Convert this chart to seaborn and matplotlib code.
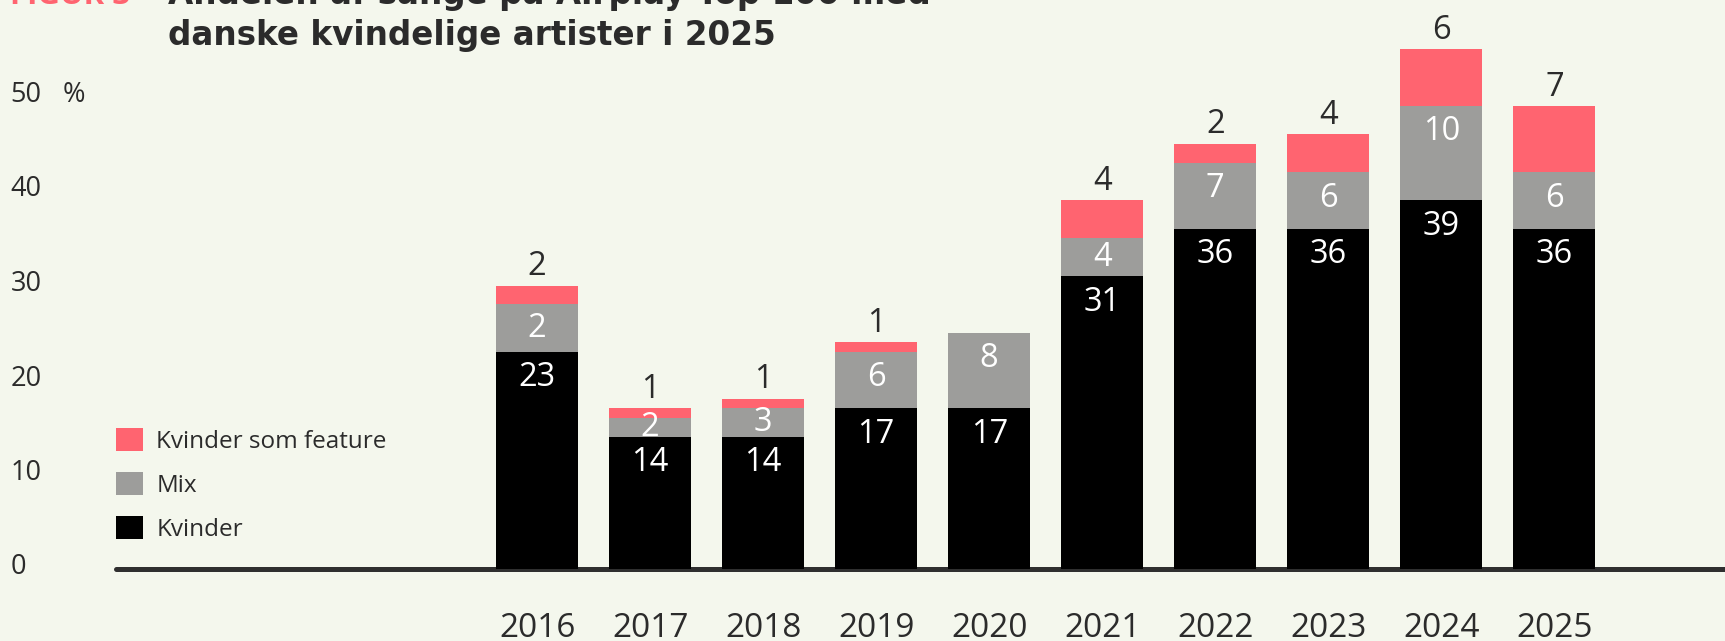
import matplotlib
matplotlib.use("Agg")
import matplotlib.pyplot as plt
import matplotlib.transforms as mtransforms
from matplotlib.patches import Patch
import numpy as np
import pandas as pd
import seaborn as sns

# ---- data ----
years = ["2016", "2017", "2018", "2019", "2020", "2021", "2022", "2023", "2024", "2025"]
kvinder = [23, 14, 14, 17, 17, 31, 36, 36, 39, 36]
mix = [5, 2, 3, 6, 8, 4, 7, 6, 10, 6]            # bar heights as drawn
mix_labels = ["2", "2", "3", "6", "8", "4", "7", "6", "10", "6"]  # labels as printed
feature = [2, 1, 1, 1, 0, 4, 2, 4, 6, 7]
yticks = [0, 10, 20, 30, 40, 50]
series_names = ["Kvinder som feature", "Mix", "Kvinder"]

title_tag = "FIGUR 3"
title_lines = ["Andelen af sange på Airplay Top 100 med",
               "danske kvindelige artister i 2025"]

# ---- style ----
BG = "#f4f7ed"
RED = "#ff6470"
GREY = "#9d9d9b"
BLACK = "#000000"
TXT = "#2b2b2b"
FONT = ["Open Sans", "DejaVu Sans"]
TITLE_FONT = ["DejaVu Sans"]

sns.set_theme(style="white")
plt.rcParams["font.family"] = FONT
plt.rcParams["figure.facecolor"] = BG
plt.rcParams["axes.facecolor"] = BG

df = pd.DataFrame({"year": years, "kvinder": kvinder, "mix": mix, "feature": feature})
df["lvl2"] = df["kvinder"] + df["mix"]
df["total"] = df["lvl2"] + df["feature"]

W, H = 1725, 641
fig = plt.figure(figsize=(W / 100, H / 100), dpi=100)
ax = fig.add_axes([116 / W, 72 / H, 1609 / W, 567 / H])
ax.set_facecolor(BG)

bw = 0.728
common = dict(x="year", order=years, ax=ax, saturation=1, width=bw,
              linewidth=0, edgecolor="none", zorder=3)
sns.barplot(data=df, y="total", color=RED, **common)
sns.barplot(data=df, y="lvl2", color=GREY, **common)
sns.barplot(data=df, y="kvinder", color=BLACK, **common)

ax.set_ylim(0, 60)
ax.set_xlim(-3.726, 10.51)
ax.axhline(0, color="#2f2f2f", lw=3.6, zorder=2, clip_on=False)

for s in ax.spines.values():
    s.set_visible(False)
ax.set_xlabel("")
ax.set_ylabel("")

ax.set_xticks(range(len(years)))
ax.set_xticklabels(years)
ax.tick_params(axis="x", length=0, pad=31, labelsize=24, labelcolor=TXT)
ax.set_yticks(yticks)
ax.set_yticklabels([str(v) for v in yticks])
ax.tick_params(axis="y", length=0, pad=76, labelsize=19.5, labelcolor=TXT)
lift = mtransforms.ScaledTranslation(0, 5 / 100, fig.dpi_scale_trans)
for tk in ax.yaxis.get_major_ticks():
    lab = tk.label1
    lab.set_horizontalalignment("left")
    lab.set_verticalalignment("center_baseline")
    lab.set_transform(lab.get_transform() + lift)

# % sign next to top tick
trans = mtransforms.blended_transform_factory(fig.transFigure, ax.transData)
ax.text(63 / W, yticks[-1], "%", transform=trans + lift, ha="left",
        va="center_baseline", fontsize=19.5, color=TXT)

# value labels
LBL = 23.5
for i in range(len(years)):
    k = kvinder[i]
    ax.text(i, k - 2.75, str(k), ha="center", va="center", color="white",
            fontsize=LBL, zorder=5)
    top2 = k + mix[i]
    ym = max(k + mix[i] / 2, top2 - 2.75)
    ax.text(i, ym, mix_labels[i], ha="center", va="center", color="white",
            fontsize=LBL, zorder=5)
    if feature[i] > 0:
        ax.text(i, top2 + feature[i] + 2.0, str(feature[i]), ha="center",
                va="center", color=TXT, fontsize=LBL, zorder=5)

# legend
handles = [Patch(facecolor=c, edgecolor="none") for c in (RED, GREY, BLACK)]
leg = fig.legend(handles, series_names, loc="upper left",
                 bbox_to_anchor=(116 / W, 1 - 428 / H), bbox_transform=fig.transFigure,
                 frameon=False, fontsize=17.5, handlelength=1.11, handleheight=1.07,
                 handletextpad=0.55, labelspacing=0.75, borderpad=0, borderaxespad=0)
for t in leg.get_texts():
    t.set_color(TXT)

# title
fig.text(168 / W, 1 - 4 / H, title_lines[0], ha="left", va="baseline",
         fontsize=23.5, fontweight="bold", color=TXT, family=TITLE_FONT)
fig.text(168 / W, 1 - 45 / H, title_lines[1], ha="left", va="baseline",
         fontsize=23.5, fontweight="bold", color=TXT, family=TITLE_FONT)
fig.text(10 / W, 1 - 4 / H, title_tag, ha="left", va="baseline",
         fontsize=22.5, fontweight="bold", color=RED)

fig.savefig("out.png", dpi=100, facecolor=BG)
